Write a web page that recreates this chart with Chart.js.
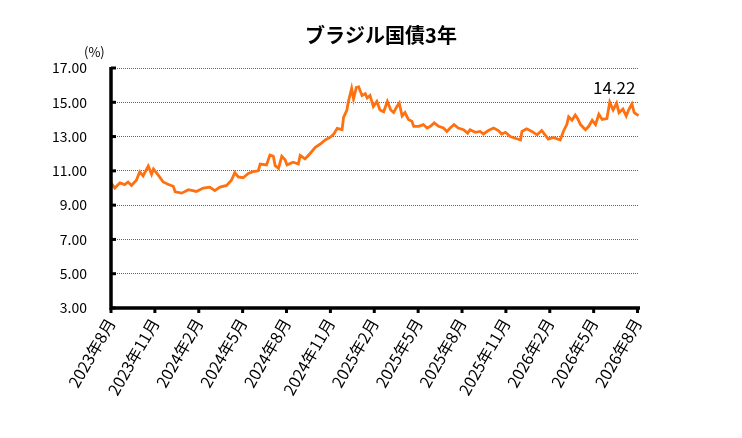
<!DOCTYPE html>
<html>
<head>
<meta charset="utf-8">
<script src="https://cdn.jsdelivr.net/npm/chart.js@4.4.1/dist/chart.umd.min.js"></script>
<style>
	html, body { margin: 0; padding: 0; background: #fff; }
	#wrap { width: 742px; height: 438px; }
</style>
</head>
<body>
<div id="wrap"><canvas id="chart"></canvas></div>
<script>
// ブラジル国債3年 利回り (%)
const dates = [
	'2023-08-01','2023-08-09','2023-08-20','2023-08-30','2023-09-06','2023-09-13','2023-09-23','2023-09-30',
	'2023-10-07','2023-10-18','2023-10-25','2023-10-29','2023-11-08','2023-11-18','2023-11-29','2023-12-09',
	'2023-12-13','2023-12-27','2024-01-10','2024-01-27','2024-02-10','2024-02-23','2024-03-04','2024-03-15',
	'2024-03-29','2024-04-08','2024-04-15','2024-04-22','2024-05-02','2024-05-13','2024-05-23','2024-06-03',
	'2024-06-07','2024-06-20','2024-06-27','2024-07-04','2024-07-08','2024-07-15','2024-07-22','2024-07-29',
	'2024-08-02','2024-08-15','2024-08-26','2024-08-30','2024-09-09','2024-09-19','2024-09-30','2024-10-10',
	'2024-10-21','2024-10-31','2024-11-08','2024-11-15','2024-11-25','2024-11-28','2024-12-05','2024-12-08',
	'2024-12-15','2024-12-19','2024-12-25','2024-12-30','2025-01-06','2025-01-13','2025-01-17','2025-01-23',
	'2025-01-30','2025-02-06','2025-02-12','2025-02-19','2025-02-26','2025-03-05','2025-03-11','2025-03-18',
	'2025-03-23','2025-03-29','2025-04-04','2025-04-11','2025-04-18','2025-04-22','2025-05-02','2025-05-12',
	'2025-05-20','2025-05-27','2025-06-04','2025-06-13','2025-06-23','2025-06-30','2025-07-07','2025-07-15',
	'2025-07-24','2025-08-04','2025-08-13','2025-08-18','2025-08-29','2025-09-08','2025-09-15','2025-09-25',
	'2025-10-06','2025-10-16','2025-10-23','2025-10-31','2025-11-10','2025-11-20','2025-12-01','2025-12-04',
	'2025-12-14','2025-12-25','2026-01-05','2026-01-15','2026-01-22','2026-01-29','2026-02-08','2026-02-21',
	'2026-02-27','2026-03-06','2026-03-10','2026-03-17','2026-03-24','2026-03-29','2026-04-04','2026-04-14',
	'2026-04-21','2026-04-28','2026-05-05','2026-05-12','2026-05-19','2026-05-29','2026-06-04','2026-06-11',
	'2026-06-18','2026-06-23','2026-07-01','2026-07-08','2026-07-13','2026-07-20','2026-07-25','2026-08-03'
];
const yields = [
	10.31, 10.00, 10.30, 10.20, 10.35, 10.15, 10.45, 10.95,
	10.70, 11.28, 10.80, 11.10, 10.75, 10.35, 10.20, 10.10,
	9.78, 9.70, 9.90, 9.80, 10.00, 10.05, 9.85, 10.05,
	10.15, 10.45, 10.90, 10.65, 10.60, 10.85, 10.95, 11.00,
	11.40, 11.35, 11.92, 11.85, 11.30, 11.15, 11.85, 11.65,
	11.35, 11.50, 11.40, 11.90, 11.70, 12.00, 12.37, 12.55,
	12.80, 12.95, 13.15, 13.48, 13.40, 14.12, 14.55, 15.03,
	15.81, 15.20, 15.87, 15.90, 15.40, 15.50, 15.25, 15.40,
	14.75, 15.05, 14.55, 14.45, 15.05, 14.55, 14.40, 14.75,
	14.95, 14.20, 14.40, 14.00, 13.90, 13.60, 13.60, 13.70,
	13.50, 13.60, 13.80, 13.60, 13.50, 13.30, 13.50, 13.70,
	13.50, 13.40, 13.20, 13.40, 13.25, 13.30, 13.15, 13.35,
	13.50, 13.35, 13.15, 13.25, 13.00, 12.90, 12.80, 13.30,
	13.45, 13.30, 13.10, 13.35, 13.10, 12.85, 12.95, 12.80,
	13.30, 13.70, 14.15, 13.95, 14.25, 14.05, 13.70, 13.40,
	13.60, 13.95, 13.70, 14.30, 14.00, 14.05, 15.00, 14.55,
	14.95, 14.40, 14.60, 14.20, 14.55, 14.90, 14.40, 14.22
];
const tickMonths = [0, 3, 6, 9, 12, 15, 18, 21, 24, 27, 30, 33, 36];
const tickLabels = [
	'2023年8月','2023年11月','2024年2月','2024年5月','2024年8月','2024年11月','2025年2月',
	'2025年5月','2025年8月','2025年11月','2026年2月','2026年5月','2026年8月'
];
const yTicks = [3, 5, 7, 9, 11, 13, 15, 17];

const FONT = '"Noto Sans CJK JP", "Noto Sans", sans-serif';

// months since 2023-08-01
function monthOffset(s){
	const p = s.split('-').map(Number);
	const days = new Date(p[0], p[1], 0).getDate();
	return (p[0] - 2023) * 12 + (p[1] - 8) + (p[2] - 1) / days;
}

const points = dates.map((d, i) => ({x: monthOffset(d), y: yields[i]}));

const extras = {
	id: 'extras',
	afterDraw(chart){
		const ctx = chart.ctx;
		const area = chart.chartArea;
		const xs = chart.scales.x;
		const ys = chart.scales.y;
		ctx.save();

		// axes, drawn by hand so they come out thick and solid
		ctx.strokeStyle = '#000';
		ctx.lineWidth = 3.5;
		ctx.beginPath();
		ctx.moveTo(area.left, area.top - 1);
		ctx.lineTo(area.left, area.bottom);
		ctx.lineTo(area.right + 1, area.bottom);
		ctx.stroke();

		ctx.lineWidth = 3;
		yTicks.forEach((v) => {
			const py = ys.getPixelForValue(v);
			ctx.beginPath();
			ctx.moveTo(area.left, py);
			ctx.lineTo(area.left + 5, py);
			ctx.stroke();
		});
		tickMonths.forEach((v) => {
			const px = xs.getPixelForValue(v);
			ctx.beginPath();
			ctx.moveTo(px, area.bottom);
			ctx.lineTo(px, area.bottom + 5);
			ctx.stroke();
		});

		ctx.fillStyle = '#000';
		ctx.font = 'bold 20px ' + FONT;
		ctx.textAlign = 'center';
		ctx.textBaseline = 'middle';
		ctx.fillText('ブラジル国債3年', 381, 35);

		ctx.font = '13px ' + FONT;
		ctx.textAlign = 'left';
		ctx.fillText('(%)', 84, 52);

		// latest value
		const meta = chart.getDatasetMeta(0);
		const last = meta.data[meta.data.length - 1];
		ctx.font = '17px ' + FONT;
		ctx.textAlign = 'right';
		ctx.textBaseline = 'alphabetic';
		ctx.fillText(yields[yields.length - 1].toFixed(2), last.x - 3, last.y - 22);
		ctx.restore();
	}
};

new Chart(document.getElementById('chart'), {
	type: 'line',
	data: {
		datasets: [{
			data: points,
			borderColor: '#ff7010',
			borderWidth: 2.8,
			pointRadius: 0,
			tension: 0,
			fill: false
		}]
	},
	options: {
		responsive: true,
		maintainAspectRatio: false,
		animation: false,
		layout: { padding: { top: 68, right: 103, bottom: 0, left: 0 } },
		plugins: {
			legend: { display: false },
			tooltip: { enabled: false }
		},
		scales: {
			x: {
				type: 'linear',
				min: 0,
				max: 36.1,
				afterBuildTicks: (scale) => {
					scale.ticks = tickMonths.map((v) => ({value: v}));
				},
				afterFit: (scale) => { scale.height = 130; },
				ticks: {
					autoSkip: false,
					minRotation: 60,
					maxRotation: 60,
					padding: 7,
					color: '#000',
					font: { family: FONT, size: 16 },
					callback: (v) => tickLabels[tickMonths.indexOf(v)]
				},
				grid: { display: false, drawTicks: false },
				border: { display: false }
			},
			y: {
				min: 3,
				max: 17,
				afterBuildTicks: (scale) => {
					scale.ticks = yTicks.map((v) => ({value: v}));
				},
				afterFit: (scale) => { scale.width = 111; },
				ticks: {
					padding: 24,
					color: '#000',
					font: { family: FONT, size: 14 },
					callback: (v) => v.toFixed(2)
				},
				grid: {
					drawTicks: false,
					color: (c) => c.tick && c.tick.value === 3 ? 'rgba(0,0,0,0)' : '#666',
					lineWidth: 1
				},
				border: { display: false, dash: [1, 1] }
			}
		}
	},
	plugins: [extras]
});
</script>
</body>
</html>
